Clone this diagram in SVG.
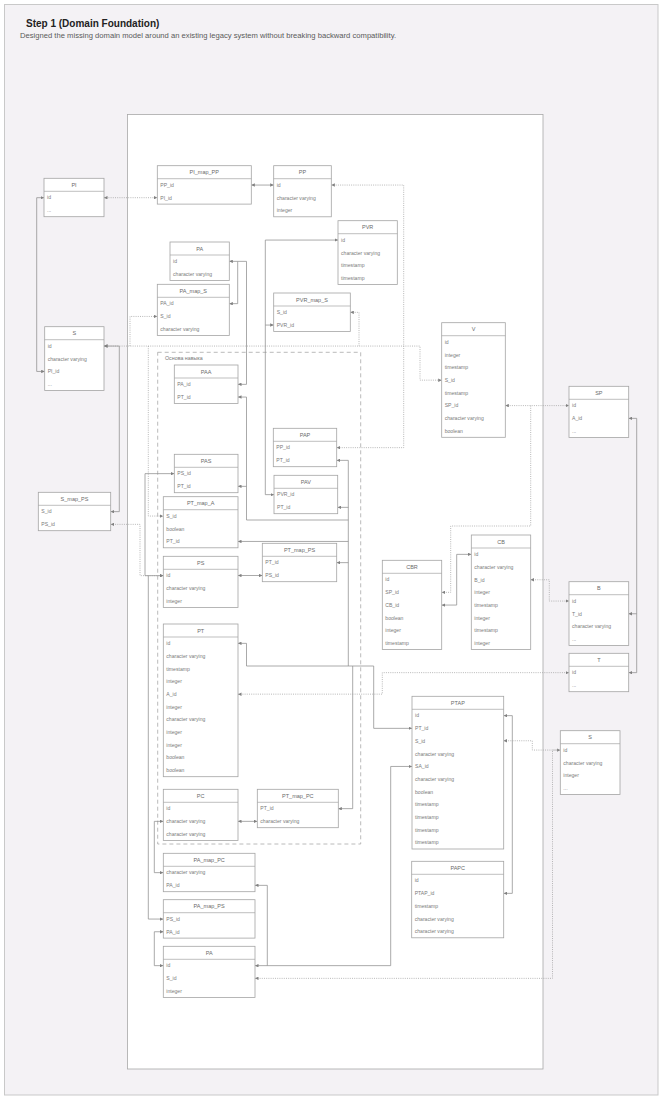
<svg xmlns="http://www.w3.org/2000/svg" width="663" height="1100" viewBox="0 0 663 1100">
<style>
.tb{fill:#fff;stroke:#a4a4a4;stroke-width:0.8}
.sep{stroke:#a4a4a4;stroke-width:0.7}
.h{font-family:"Liberation Sans",Arial,sans-serif;font-size:5.5px;fill:#6a6a6a;text-anchor:middle}
.r{font-family:"Liberation Sans",Arial,sans-serif;font-size:5.1px;fill:#7a7a7a}
.ln{fill:none;stroke:#8e8e8e;stroke-width:0.75}
.dt{fill:none;stroke:#a0a0a0;stroke-width:0.75;stroke-dasharray:1 1.2}
.me{marker-end:url(#m)}
.ms{marker-start:url(#m)}
</style>
<defs>
<marker id="m" viewBox="0 0 4 4" refX="4" refY="2" markerWidth="3.5" markerHeight="3.5" markerUnits="userSpaceOnUse" orient="auto-start-reverse">
<path d="M0,0 L4,2 L0,4 z" fill="#808080"/>
</marker>
</defs>
<rect x="4.5" y="4.5" width="653.5" height="1090.5" fill="#f4f2f5" stroke="#c9c9c9" stroke-width="1"/>
<text x="26" y="26.5" font-family="'Liberation Sans',Arial,sans-serif" font-size="10" font-weight="bold" fill="#222">Step 1 (Domain Foundation)</text>
<text x="20" y="38" font-family="'Liberation Sans',Arial,sans-serif" font-size="7.3" fill="#5a5a5a" textLength="376" lengthAdjust="spacingAndGlyphs">Designed the missing domain model around an existing legacy system without breaking backward compatibility.</text>
<rect x="127.5" y="114.5" width="415.5" height="954.5" fill="#fff" stroke="#a8a8a8" stroke-width="0.8"/>
<g id="group-osnova">
<rect x="157.7" y="352.3" width="203" height="491.7" fill="none" stroke="#a8a8a8" stroke-width="0.8" stroke-dasharray="4 3"/>
<text x="165" y="360" font-family="'Liberation Sans',Arial,sans-serif" font-size="5.3" fill="#777">Основа навыка</text>
</g>

<g id="connectors">
<path class="dt me ms" d="M104,197.7 H157.3"/>
<path class="ln me ms" d="M251.3,185.05 H273.7"/>
<path class="ln me ms" d="M44,197.7 H36.7 V371.45 H44.7"/>
<path class="ln me ms" d="M104,346.05 H119.3 V511.65 H110.7"/>
<path class="dt me ms" d="M104,346.05 H420 V380.15 H441.7"/>
<path class="dt ms" d="M350.3,312.35 H359 V346.05"/>
<path class="dt me" d="M130,346.05 V316.45 H157.3"/>
<path class="dt me" d="M148.3,346.05 V516.05 H163.3"/>
<path class="dt me ms" d="M331.3,185.05 H403.7 V447.65 H336.7"/>
<path class="ln me ms" d="M338,240.05 H265.3 V494.65 H274"/>
<path class="ln me" d="M265.3,325.05 H273.7"/>
<path class="ln me ms" d="M229.3,261.35 H237.7 V303.65 H229.3"/>
<path class="ln me" d="M237.7,261.35 H246.5 V384.35 H238"/>
<path class="ln ms" d="M238,397.05 H246.5 V520 H348.3"/>
<path class="ln ms" d="M238,486.35 H246.5"/>
<path class="ln ms" d="M336.7,460.35 H348.3 V666"/>
<path class="ln ms" d="M337.7,507.35 H348.3"/>
<path class="ln ms" d="M238,541.45 H348.3"/>
<path class="ln ms" d="M336.7,562.65 H348.3"/>
<path class="ln me ms" d="M238,643.35 H246.5 V666 H373.7 V728.35 H412"/>
<path class="ln me" d="M352.7,666 V808.65 H338.3"/>
<path class="ln me ms" d="M238,575.5 H262.3"/>
<path class="ln me ms" d="M174.3,473.65 H145 V575.65 H163.3"/>
<path class="ln me" d="M148.3,575.65 V919.05 H163.3"/>
<path class="dt me ms" d="M110.7,524.35 H140 V575.65 H163.3"/>
<path class="ln me ms" d="M238,821.35 H257.3"/>
<path class="ln me ms" d="M163.3,821.35 H154.3 V872.65 H163.3"/>
<path class="ln me ms" d="M163.3,931.75 H154.3 V965.65 H163.3"/>
<path class="ln me ms" d="M255,965.65 H390.7 V766.45 H412"/>
<path class="ln me" d="M267.3,965.65 V885.35 H255"/>
<path class="dt me ms" d="M503.7,740.75 H532.3 V750.05 H560.3"/>
<path class="dt me" d="M560.3,750.05 H552.5 V978.35 H255"/>
<path class="ln me ms" d="M503.7,715.65 H512.3 V893.35 H503.7"/>
<path class="dt me ms" d="M505.3,405.6 H569"/>
<path class="dt me" d="M530.7,405.6 V526 H450.7 V592.35 H441.7"/>
<path class="ln me ms" d="M441.7,605.05 H456.7 V554.35 H471.3"/>
<path class="dt me ms" d="M530.7,579.75 H549.3 V601.05 H569"/>
<path class="ln me ms" d="M628.7,418.35 H636.7 V672.65 H628.7"/>
<path class="ln ms" d="M628.7,613.75 H636.7"/>
<path class="dt me ms" d="M238,694.15 H382.3 V672.65 H569"/>
</g>

<g id="PI"><rect class="tb" x="44" y="178.3" width="60" height="38.4"/><line class="sep" x1="44" y1="191.3" x2="104" y2="191.3"/><text class="h" x="74" y="186.8">PI</text><text class="r" x="47" y="199.45">id</text><text class="r" x="47" y="212.15">...</text></g>

<g id="PI_map_PP"><rect class="tb" x="157.3" y="165.7" width="94" height="38.4"/><line class="sep" x1="157.3" y1="178.7" x2="251.3" y2="178.7"/><text class="h" x="204.3" y="174.2">PI_map_PP</text><text class="r" x="160.3" y="186.85">PP_id</text><text class="r" x="160.3" y="199.55">PI_id</text></g>

<g id="PP"><rect class="tb" x="273.7" y="165.7" width="57.6" height="51.1"/><line class="sep" x1="273.7" y1="178.7" x2="331.3" y2="178.7"/><text class="h" x="302.5" y="174.2">PP</text><text class="r" x="276.7" y="186.85">id</text><text class="r" x="276.7" y="199.55">character varying</text><text class="r" x="276.7" y="212.25">integer</text></g>

<g id="PVR"><rect class="tb" x="338" y="220.7" width="59.3" height="63.8"/><line class="sep" x1="338" y1="233.7" x2="397.3" y2="233.7"/><text class="h" x="367.65" y="229.2">PVR</text><text class="r" x="341" y="241.85">id</text><text class="r" x="341" y="254.55">character varying</text><text class="r" x="341" y="267.25">timestamp</text><text class="r" x="341" y="279.95">timestamp</text></g>

<g id="PA_top"><rect class="tb" x="170" y="242" width="59.3" height="38.4"/><line class="sep" x1="170" y1="255" x2="229.3" y2="255"/><text class="h" x="199.65" y="250.5">PA</text><text class="r" x="173" y="263.15">id</text><text class="r" x="173" y="275.85">character varying</text></g>

<g id="PA_map_S"><rect class="tb" x="157.3" y="284.3" width="72" height="51.1"/><line class="sep" x1="157.3" y1="297.3" x2="229.3" y2="297.3"/><text class="h" x="193.3" y="292.8">PA_map_S</text><text class="r" x="160.3" y="305.45">PA_id</text><text class="r" x="160.3" y="318.15">S_id</text><text class="r" x="160.3" y="330.85">character varying</text></g>

<g id="PVR_map_S"><rect class="tb" x="273.7" y="293" width="76.6" height="38.4"/><line class="sep" x1="273.7" y1="306" x2="350.3" y2="306"/><text class="h" x="312" y="301.5">PVR_map_S</text><text class="r" x="276.7" y="314.15">S_id</text><text class="r" x="276.7" y="326.85">PVR_id</text></g>

<g id="S_left"><rect class="tb" x="44.7" y="326.7" width="59.3" height="63.8"/><line class="sep" x1="44.7" y1="339.7" x2="104" y2="339.7"/><text class="h" x="74.35" y="335.2">S</text><text class="r" x="47.7" y="347.85">id</text><text class="r" x="47.7" y="360.55">character varying</text><text class="r" x="47.7" y="373.25">PI_id</text><text class="r" x="47.7" y="385.95">...</text></g>

<g id="V"><rect class="tb" x="441.7" y="322.7" width="63.6" height="114.6"/><line class="sep" x1="441.7" y1="335.7" x2="505.3" y2="335.7"/><text class="h" x="473.5" y="331.2">V</text><text class="r" x="444.7" y="343.85">id</text><text class="r" x="444.7" y="356.55">integer</text><text class="r" x="444.7" y="369.25">timestamp</text><text class="r" x="444.7" y="381.95">S_id</text><text class="r" x="444.7" y="394.65">timestamp</text><text class="r" x="444.7" y="407.35">SP_id</text><text class="r" x="444.7" y="420.05">character varying</text><text class="r" x="444.7" y="432.75">boolean</text></g>

<g id="SP"><rect class="tb" x="569" y="386.3" width="59.7" height="51.1"/><line class="sep" x1="569" y1="399.3" x2="628.7" y2="399.3"/><text class="h" x="598.85" y="394.8">SP</text><text class="r" x="572" y="407.45">id</text><text class="r" x="572" y="420.15">A_id</text><text class="r" x="572" y="432.85">...</text></g>

<g id="PAA"><rect class="tb" x="174.3" y="365" width="63.7" height="38.4"/><line class="sep" x1="174.3" y1="378" x2="238" y2="378"/><text class="h" x="206.15" y="373.5">PAA</text><text class="r" x="177.3" y="386.15">PA_id</text><text class="r" x="177.3" y="398.85">PT_id</text></g>

<g id="PAP"><rect class="tb" x="273.3" y="428.3" width="63.4" height="38.4"/><line class="sep" x1="273.3" y1="441.3" x2="336.7" y2="441.3"/><text class="h" x="305" y="436.8">PAP</text><text class="r" x="276.3" y="449.45">PP_id</text><text class="r" x="276.3" y="462.15">PT_id</text></g>

<g id="PAS"><rect class="tb" x="174.3" y="454.3" width="63.7" height="38.4"/><line class="sep" x1="174.3" y1="467.3" x2="238" y2="467.3"/><text class="h" x="206.15" y="462.8">PAS</text><text class="r" x="177.3" y="475.45">PS_id</text><text class="r" x="177.3" y="488.15">PT_id</text></g>

<g id="PAV"><rect class="tb" x="274" y="475.3" width="63.7" height="38.4"/><line class="sep" x1="274" y1="488.3" x2="337.7" y2="488.3"/><text class="h" x="305.85" y="483.8">PAV</text><text class="r" x="277" y="496.45">PVR_id</text><text class="r" x="277" y="509.15">PT_id</text></g>

<g id="S_map_PS"><rect class="tb" x="38.3" y="492.3" width="72.4" height="38.4"/><line class="sep" x1="38.3" y1="505.3" x2="110.7" y2="505.3"/><text class="h" x="74.5" y="500.8">S_map_PS</text><text class="r" x="41.3" y="513.45">S_id</text><text class="r" x="41.3" y="526.15">PS_id</text></g>

<g id="PT_map_A"><rect class="tb" x="163.3" y="496.7" width="74.7" height="51.1"/><line class="sep" x1="163.3" y1="509.7" x2="238" y2="509.7"/><text class="h" x="200.65" y="505.2">PT_map_A</text><text class="r" x="166.3" y="517.85">S_id</text><text class="r" x="166.3" y="530.55">boolean</text><text class="r" x="166.3" y="543.25">PT_id</text></g>

<g id="CB"><rect class="tb" x="471.3" y="535" width="59.4" height="114.6"/><line class="sep" x1="471.3" y1="548" x2="530.7" y2="548"/><text class="h" x="501" y="543.5">CB</text><text class="r" x="474.3" y="556.15">id</text><text class="r" x="474.3" y="568.85">character varying</text><text class="r" x="474.3" y="581.55">B_id</text><text class="r" x="474.3" y="594.25">integer</text><text class="r" x="474.3" y="606.95">timestamp</text><text class="r" x="474.3" y="619.65">integer</text><text class="r" x="474.3" y="632.35">timestamp</text><text class="r" x="474.3" y="645.05">integer</text></g>

<g id="PT_map_PS"><rect class="tb" x="262.3" y="543.3" width="74.4" height="38.4"/><line class="sep" x1="262.3" y1="556.3" x2="336.7" y2="556.3"/><text class="h" x="299.5" y="551.8">PT_map_PS</text><text class="r" x="265.3" y="564.45">PT_id</text><text class="r" x="265.3" y="577.15">PS_id</text></g>

<g id="PS"><rect class="tb" x="163.3" y="556.3" width="74.7" height="51.1"/><line class="sep" x1="163.3" y1="569.3" x2="238" y2="569.3"/><text class="h" x="200.65" y="564.8">PS</text><text class="r" x="166.3" y="577.45">id</text><text class="r" x="166.3" y="590.15">character varying</text><text class="r" x="166.3" y="602.85">integer</text></g>

<g id="CBR"><rect class="tb" x="382.3" y="560.3" width="59.4" height="89.2"/><line class="sep" x1="382.3" y1="573.3" x2="441.7" y2="573.3"/><text class="h" x="412" y="568.8">CBR</text><text class="r" x="385.3" y="581.45">id</text><text class="r" x="385.3" y="594.15">SP_id</text><text class="r" x="385.3" y="606.85">CB_id</text><text class="r" x="385.3" y="619.55">boolean</text><text class="r" x="385.3" y="632.25">integer</text><text class="r" x="385.3" y="644.95">timestamp</text></g>

<g id="B"><rect class="tb" x="569" y="581.7" width="59.7" height="63.8"/><line class="sep" x1="569" y1="594.7" x2="628.7" y2="594.7"/><text class="h" x="598.85" y="590.2">B</text><text class="r" x="572" y="602.85">id</text><text class="r" x="572" y="615.55">T_id</text><text class="r" x="572" y="628.25">character varying</text><text class="r" x="572" y="640.95">...</text></g>

<g id="PT"><rect class="tb" x="163.3" y="624" width="74.7" height="152.7"/><line class="sep" x1="163.3" y1="637" x2="238" y2="637"/><text class="h" x="200.65" y="632.5">PT</text><text class="r" x="166.3" y="645.15">id</text><text class="r" x="166.3" y="657.85">character varying</text><text class="r" x="166.3" y="670.55">timestamp</text><text class="r" x="166.3" y="683.25">integer</text><text class="r" x="166.3" y="695.95">A_id</text><text class="r" x="166.3" y="708.65">integer</text><text class="r" x="166.3" y="721.35">character varying</text><text class="r" x="166.3" y="734.05">integer</text><text class="r" x="166.3" y="746.75">integer</text><text class="r" x="166.3" y="759.45">boolean</text><text class="r" x="166.3" y="772.15">boolean</text></g>

<g id="T"><rect class="tb" x="569" y="653.3" width="59.7" height="38.4"/><line class="sep" x1="569" y1="666.3" x2="628.7" y2="666.3"/><text class="h" x="598.85" y="661.8">T</text><text class="r" x="572" y="674.45">id</text><text class="r" x="572" y="687.15">...</text></g>

<g id="PTAP"><rect class="tb" x="412" y="696.3" width="91.7" height="152.7"/><line class="sep" x1="412" y1="709.3" x2="503.7" y2="709.3"/><text class="h" x="457.85" y="704.8">PTAP</text><text class="r" x="415" y="717.45">id</text><text class="r" x="415" y="730.15">PT_id</text><text class="r" x="415" y="742.85">S_id</text><text class="r" x="415" y="755.55">character varying</text><text class="r" x="415" y="768.25">SA_id</text><text class="r" x="415" y="780.95">character varying</text><text class="r" x="415" y="793.65">boolean</text><text class="r" x="415" y="806.35">timestamp</text><text class="r" x="415" y="819.05">timestamp</text><text class="r" x="415" y="831.75">timestamp</text><text class="r" x="415" y="844.45">timestamp</text></g>

<g id="S_right"><rect class="tb" x="560.3" y="730.7" width="59.7" height="63.8"/><line class="sep" x1="560.3" y1="743.7" x2="620" y2="743.7"/><text class="h" x="590.15" y="739.2">S</text><text class="r" x="563.3" y="751.85">id</text><text class="r" x="563.3" y="764.55">character varying</text><text class="r" x="563.3" y="777.25">integer</text><text class="r" x="563.3" y="789.95">...</text></g>

<g id="PC"><rect class="tb" x="163.3" y="789.3" width="74.7" height="51.1"/><line class="sep" x1="163.3" y1="802.3" x2="238" y2="802.3"/><text class="h" x="200.65" y="797.8">PC</text><text class="r" x="166.3" y="810.45">id</text><text class="r" x="166.3" y="823.15">character varying</text><text class="r" x="166.3" y="835.85">character varying</text></g>

<g id="PT_map_PC"><rect class="tb" x="257.3" y="789.3" width="81" height="38.4"/><line class="sep" x1="257.3" y1="802.3" x2="338.3" y2="802.3"/><text class="h" x="297.8" y="797.8">PT_map_PC</text><text class="r" x="260.3" y="810.45">PT_id</text><text class="r" x="260.3" y="823.15">character varying</text></g>

<g id="PA_map_PC"><rect class="tb" x="163.3" y="853.3" width="91.7" height="38.4"/><line class="sep" x1="163.3" y1="866.3" x2="255" y2="866.3"/><text class="h" x="209.15" y="861.8">PA_map_PC</text><text class="r" x="166.3" y="874.45">character varying</text><text class="r" x="166.3" y="887.15">PA_id</text></g>

<g id="PAPC"><rect class="tb" x="411.7" y="861.3" width="92" height="76.5"/><line class="sep" x1="411.7" y1="874.3" x2="503.7" y2="874.3"/><text class="h" x="457.7" y="869.8">PAPC</text><text class="r" x="414.7" y="882.45">id</text><text class="r" x="414.7" y="895.15">PTAP_id</text><text class="r" x="414.7" y="907.85">timestamp</text><text class="r" x="414.7" y="920.55">character varying</text><text class="r" x="414.7" y="933.25">character varying</text></g>

<g id="PA_map_PS"><rect class="tb" x="163.3" y="899.7" width="91.7" height="38.4"/><line class="sep" x1="163.3" y1="912.7" x2="255" y2="912.7"/><text class="h" x="209.15" y="908.2">PA_map_PS</text><text class="r" x="166.3" y="920.85">PS_id</text><text class="r" x="166.3" y="933.55">PA_id</text></g>

<g id="PA_bottom"><rect class="tb" x="163.3" y="946.3" width="91.7" height="51.1"/><line class="sep" x1="163.3" y1="959.3" x2="255" y2="959.3"/><text class="h" x="209.15" y="954.8">PA</text><text class="r" x="166.3" y="967.45">id</text><text class="r" x="166.3" y="980.15">S_id</text><text class="r" x="166.3" y="992.85">integer</text></g>
</svg>
